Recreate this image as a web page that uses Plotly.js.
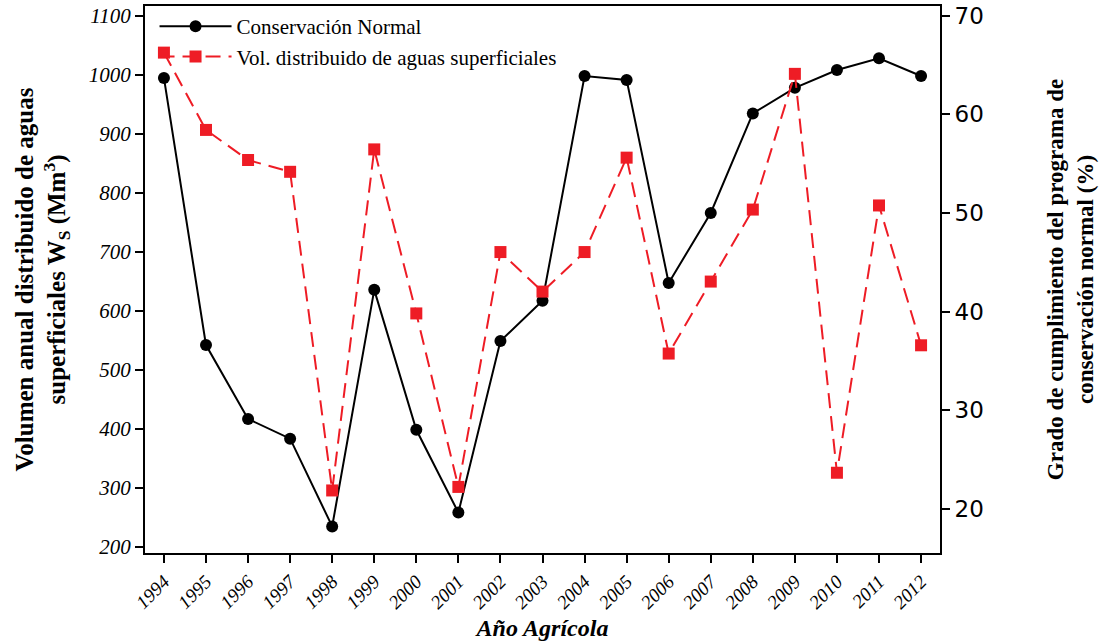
<!DOCTYPE html>
<html>
<head>
<meta charset="utf-8">
<script src="https://cdn.plot.ly/plotly-3.0.1.min.js"></script>
<style>html,body{margin:0;padding:0;background:#fff}#chart{width:1100px;height:644px}</style>
</head>
<body>
<div id="chart"></div>
<script>
const years = [1994,1995,1996,1997,1998,1999,2000,2001,2002,2003,2004,2005,2006,2007,2008,2009,2010,2011,2012];
const conservacionNormal = [63.7,36.6,29.1,27.1,18.2,42.2,28.0,19.6,37.0,41.1,63.9,63.5,42.9,50.0,60.1,62.7,64.5,65.7,63.9];
const volDistribuido = [1038,907,856,836,296,874,596,302,700,633,700,860,528,650,772,1002,326,779,542];
const leftTicks = [200,300,400,500,600,700,800,900,1000,1100];
const rightTicks = [20,30,40,50,60,70];

const serif = 'Liberation Serif, Times New Roman, serif';
const traces = [
  {x: years, y: conservacionNormal, name: 'Conservación Normal', type: 'scatter', mode: 'lines+markers',
   yaxis: 'y', line: {color: '#000000', width: 2}, marker: {symbol: 'circle', size: 12, color: '#000000'}},
  {x: years, y: volDistribuido, name: 'Vol. distribuido de aguas superficiales', type: 'scatter', mode: 'lines+markers',
   yaxis: 'y2', line: {color: '#ee1c25', width: 2, dash: '15px,8px'}, marker: {symbol: 'square', size: 12, color: '#ee1c25'}}
];
const layout = {
  width: 1100, height: 644,
  margin: {l: 145, r: 160, t: 6, b: 91},
  paper_bgcolor: '#ffffff', plot_bgcolor: '#ffffff',
  showlegend: true,
  legend: {x: 0.012, y: 1.0, xanchor: 'left', yanchor: 'top', bgcolor: 'rgba(0,0,0,0)',
    font: {family: serif, size: 21, color: '#000'}, itemwidth: 72, tracegroupgap: 0},
  xaxis: {range: [1993.55, 2012.45], tickvals: years, ticktext: years.map(String), tickangle: -45,
    showgrid: false, zeroline: false, showline: true, linecolor: '#000', linewidth: 2, mirror: true,
    ticks: 'outside', ticklen: 8, tickwidth: 2, tickcolor: '#000',
    tickfont: {family: serif, size: 19, style: 'italic', color: '#000'},
    title: {text: 'Año Agrícola', standoff: 7, font: {family: serif, size: 24, style: 'italic', weight: 'bold', color: '#000'}}},
  yaxis: {side: 'right', range: [15.5, 71], tickvals: rightTicks, showgrid: false, zeroline: false,
    showline: true, linecolor: '#000', linewidth: 2, ticks: 'outside', ticklen: 8, tickwidth: 2, tickcolor: '#000',
    tickfont: {family: 'DejaVu Sans, sans-serif', size: 23, color: '#000'},
    title: {text: 'Grado de cumplimiento del programa de<br>conservación normal (%)', standoff: 64,
      font: {family: serif, size: 23, weight: 'bold', color: '#000'}}},
  yaxis2: {overlaying: 'y', side: 'left', range: [190, 1117], tickvals: leftTicks, showgrid: false, zeroline: false,
    showline: true, linecolor: '#000', linewidth: 2, ticks: 'outside', ticklen: 8, tickwidth: 2, tickcolor: '#000',
    tickfont: {family: serif, size: 21, style: 'italic', color: '#000'},
    title: {text: 'Volumen anual distribuido de aguas<br>superficiales W<sub>S</sub> (Mm<sup>3</sup>)', standoff: 16,
      font: {family: serif, size: 25, weight: 'bold', color: '#000'}}}
};
Plotly.newPlot('chart', traces, layout, {displayModeBar: false, staticPlot: true});
</script>
</body>
</html>
